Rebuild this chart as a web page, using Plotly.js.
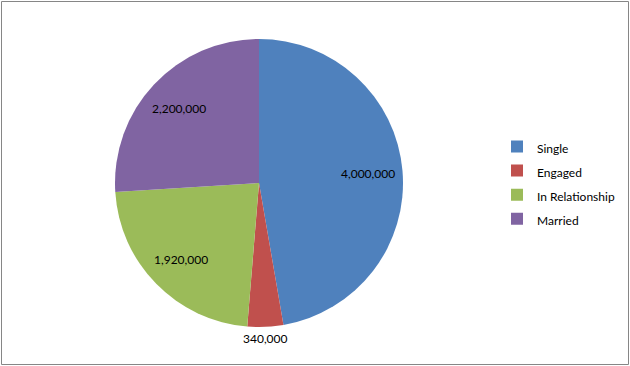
<!DOCTYPE html>
<html>
<head>
<meta charset="utf-8">
<script src="https://cdn.plot.ly/plotly-3.0.1.min.js"></script>
<style>html,body{margin:0;padding:0;background:#fff;}#chart{width:630px;height:366px;}</style>
</head>
<body>
<div id="chart"></div>
<script>
const categories = ["Single", "Engaged", "In Relationship", "Married"];
const values = [4000000, 340000, 1920000, 2200000];
const colors = ["#4F81BD", "#C0504D", "#9BBB59", "#8064A2"];
const labelInside = [true, false, true, true];

const W = 630, H = 366;
const cx = 259, cy = 183, r = 144;
const FONT = "Lato, 'Liberation Sans', sans-serif";

const trace = {
  type: "pie",
  labels: categories.map(c => '<span style="font-size:12px">' + c + '</span>'),
  values: values,
  sort: false,
  direction: "clockwise",
  rotation: 0,
  marker: {colors: colors, line: {width: 0}},
  textinfo: "none",
  hoverinfo: "label+value",
  domain: {x: [(cx - r) / W, (cx + r) / W], y: [(H - cy - r) / H, (H - cy + r) / H]}
};

// data labels placed along each slice's bisector (derived from the values)
const total = values.reduce((a, b) => a + b, 0);
let cum = 0;
const annotations = values.map((v, i) => {
  const mid = (cum + v / 2) / total * 2 * Math.PI;
  cum += v;
  const d = labelInside[i] ? 0.76 * r : r + 12;
  const px = cx + d * Math.sin(mid);
  const py = cy - d * Math.cos(mid);
  return {
    xref: "paper", yref: "paper",
    x: px / W, y: (H - py) / H,
    xanchor: "center", yanchor: "middle",
    text: v.toLocaleString("en-US"),
    showarrow: false,
    font: {family: FONT, size: 12, color: "#000"}
  };
});

const layout = {
  width: W, height: H,
  margin: {l: 0, r: 0, t: 0, b: 0},
  paper_bgcolor: "#fff",
  showlegend: true,
  legend: {
    x: 497 / W, y: 0.5, xanchor: "left", yanchor: "middle",
    font: {family: FONT, size: 16.2, color: "#000"},
    bgcolor: "rgba(0,0,0,0)",
    traceorder: "normal"
  },
  annotations: annotations,
  shapes: [{
    type: "rect", xref: "paper", yref: "paper",
    x0: 1.5 / W, x1: 628.5 / W, y0: (H - 364.5) / H, y1: (H - 1.5) / H,
    line: {color: "#868686", width: 1}
  }]
};

Plotly.newPlot("chart", [trace], layout, {displayModeBar: false, staticPlot: true});
</script>
</body>
</html>
